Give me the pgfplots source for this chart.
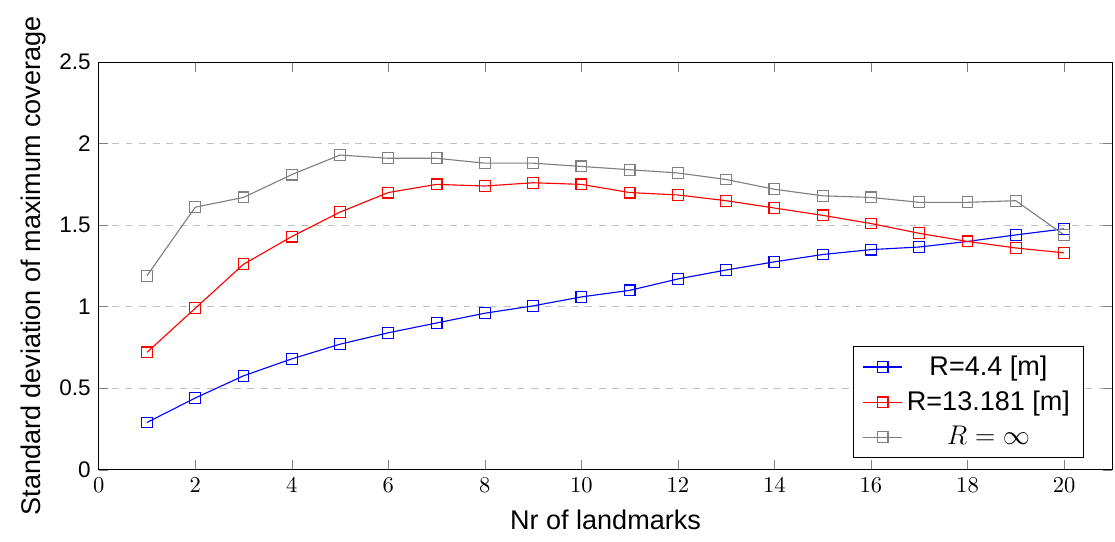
\documentclass[border=0pt]{standalone}
\usepackage{fontspec}
\setmainfont{Liberation Sans}
\usepackage{pgfplots}
\pgfplotsset{compat=1.18}

\begin{document}
\begin{tikzpicture}
\begin{axis}[
    scale only axis,
    width=450pt, height=181pt,
    xmin=0, xmax=21,
    ymin=0, ymax=2.5,
    xtick={0,2,...,20},
    ytick={0,0.5,1,1.5,2,2.5},
    yticklabels={0,0.5,1,1.5,2,2.5},
    ymajorgrids,
    major grid style={dashed, gray!50},
    major tick style={gray},
    tick align=inside,
    xlabel={\large Nr of landmarks},
    ylabel={\large Standard deviation of maximum coverage},
    ylabel style={yshift=-1pt},
    xlabel style={yshift=-1pt},
    legend pos=south east,
    legend cell align=center,
    legend style={font=\large, draw=black, inner ysep=2pt, inner xsep=4pt, row sep=1.5pt,
        at={(0.972,0.03)}},
    every axis plot/.append style={mark=square, mark size=2.4pt, line width=0.5pt},
]
\addplot[blue, mark options={solid}] coordinates {
(1,0.29) (2,0.44) (3,0.576) (4,0.68) (5,0.77) (6,0.84) (7,0.90) (8,0.96) (9,1.005) (10,1.06)
(11,1.10) (12,1.17) (13,1.225) (14,1.275) (15,1.32) (16,1.35) (17,1.366) (18,1.40) (19,1.44) (20,1.477)
};
\addlegendentry{R=4.4 [m]}
\addplot[red] coordinates {
(1,0.72) (2,0.99) (3,1.26) (4,1.43) (5,1.58) (6,1.70) (7,1.75) (8,1.74) (9,1.76) (10,1.75)
(11,1.70) (12,1.685) (13,1.65) (14,1.605) (15,1.56) (16,1.51) (17,1.45) (18,1.40) (19,1.36) (20,1.33)
};
\addlegendentry{R=13.181 [m]}
\addplot[gray] coordinates {
(1,1.19) (2,1.61) (3,1.67) (4,1.81) (5,1.93) (6,1.91) (7,1.91) (8,1.88) (9,1.88) (10,1.86)
(11,1.84) (12,1.82) (13,1.78) (14,1.72) (15,1.68) (16,1.67) (17,1.64) (18,1.64) (19,1.65) (20,1.44)
};
\addlegendentry{$R=\infty$}
\end{axis}
\path ([xshift=-6pt,yshift=-2pt]current bounding box.south west)
      ([xshift=1pt,yshift=4pt]current bounding box.north east);
\end{tikzpicture}
\end{document}
